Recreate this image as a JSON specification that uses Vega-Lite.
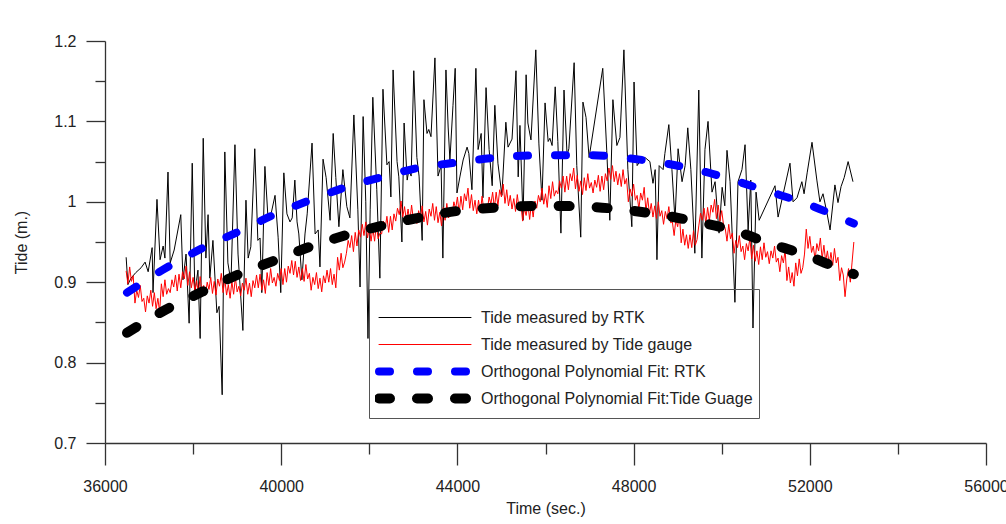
{
  "$schema": "https://vega.github.io/schema/vega-lite/v6.json",
  "width": 881,
  "height": 402,
  "autosize": {"type": "none"},
  "padding": {"left": 105, "top": 41, "right": 20, "bottom": 81},
  "background": "white",
  "config": {
    "view": {"stroke": null},
    "font": "Liberation Sans",
    "axis": {"grid": false, "domainColor": "#333", "tickColor": "#333", "domainWidth": 1.3, "tickWidth": 1.3, "labelFont": "Liberation Sans", "labelFontSize": 16, "labelColor": "#222", "titleFont": "Liberation Sans", "titleFontSize": 16, "titleFontWeight": "normal", "titleColor": "#222"},
    "legend": {"labelFont": "Liberation Sans", "labelFontSize": 16, "labelColor": "#222", "labelLimit": 0, "symbolSize": 8464, "clipHeight": 27, "rowPadding": 0, "labelOffset": 48, "symbolOffset": 42, "padding": 6, "strokeColor": "#555", "titleFontSize": 4, "titlePadding": 5}
  },
  "datasets": {
    "rtk": [
      {"t":36480,"v":0.931},{"t":36520,"v":0.897},{"t":36590,"v":0.905},{"t":36700,"v":0.912},{"t":36820,"v":0.918},{"t":36910,"v":0.925},{"t":36980,"v":0.913},{"t":37070,"v":0.943},{"t":37090,"v":0.887},{"t":37180,"v":1.003},{"t":37250,"v":0.928},{"t":37320,"v":0.945},{"t":37360,"v":0.930},{"t":37430,"v":1.037},{"t":37480,"v":0.924},{"t":37570,"v":0.940},{"t":37720,"v":0.984},{"t":37770,"v":0.903},{"t":37840,"v":0.935},{"t":37910,"v":0.849},{"t":37980,"v":1.048},{"t":38040,"v":0.887},{"t":38110,"v":0.915},{"t":38160,"v":0.830},{"t":38230,"v":1.079},{"t":38290,"v":0.930},{"t":38340,"v":0.984},{"t":38380,"v":0.905},{"t":38450,"v":0.952},{"t":38540,"v":0.862},{"t":38590,"v":0.870},{"t":38660,"v":0.760},{"t":38720,"v":1.062},{"t":38790,"v":0.924},{"t":38860,"v":0.900},{"t":38950,"v":1.071},{"t":39020,"v":0.935},{"t":39130,"v":0.840},{"t":39200,"v":1.002},{"t":39250,"v":0.930},{"t":39310,"v":0.944},{"t":39400,"v":1.066},{"t":39470,"v":0.952},{"t":39520,"v":0.955},{"t":39560,"v":0.887},{"t":39630,"v":1.044},{"t":39700,"v":0.980},{"t":39770,"v":0.985},{"t":39860,"v":1.008},{"t":39930,"v":0.956},{"t":39990,"v":0.887},{"t":40060,"v":1.036},{"t":40130,"v":0.985},{"t":40200,"v":0.975},{"t":40250,"v":0.980},{"t":40310,"v":1.027},{"t":40360,"v":0.975},{"t":40400,"v":0.960},{"t":40470,"v":0.903},{"t":40540,"v":0.960},{"t":40590,"v":0.985},{"t":40700,"v":1.073},{"t":40770,"v":0.960},{"t":40840,"v":0.965},{"t":40880,"v":0.919},{"t":40950,"v":1.053},{"t":41020,"v":1.030},{"t":41110,"v":0.977},{"t":41180,"v":1.085},{"t":41240,"v":1.030},{"t":41310,"v":0.969},{"t":41400,"v":1.040},{"t":41490,"v":0.994},{"t":41560,"v":0.980},{"t":41650,"v":1.108},{"t":41740,"v":0.990},{"t":41790,"v":0.894},{"t":41860,"v":1.106},{"t":41920,"v":1.000},{"t":41970,"v":0.830},{"t":42020,"v":0.990},{"t":42080,"v":1.130},{"t":42170,"v":1.015},{"t":42240,"v":0.905},{"t":42310,"v":1.140},{"t":42400,"v":1.046},{"t":42450,"v":1.050},{"t":42490,"v":1.006},{"t":42540,"v":1.164},{"t":42630,"v":1.050},{"t":42670,"v":1.031},{"t":42740,"v":0.950},{"t":42790,"v":1.098},{"t":42860,"v":1.027},{"t":42900,"v":1.040},{"t":42950,"v":1.032},{"t":43010,"v":1.163},{"t":43080,"v":1.055},{"t":43130,"v":1.032},{"t":43200,"v":0.952},{"t":43240,"v":1.127},{"t":43310,"v":1.085},{"t":43350,"v":1.090},{"t":43400,"v":1.081},{"t":43490,"v":1.179},{"t":43560,"v":1.032},{"t":43630,"v":1.045},{"t":43670,"v":0.930},{"t":43740,"v":1.164},{"t":43790,"v":1.093},{"t":43830,"v":1.052},{"t":43900,"v":1.120},{"t":43950,"v":1.166},{"t":43990,"v":1.011},{"t":44060,"v":1.032},{"t":44130,"v":1.052},{"t":44220,"v":1.068},{"t":44260,"v":1.060},{"t":44330,"v":1.015},{"t":44420,"v":1.166},{"t":44470,"v":1.065},{"t":44540,"v":1.085},{"t":44580,"v":1.005},{"t":44650,"v":1.142},{"t":44720,"v":1.065},{"t":44790,"v":1.020},{"t":44850,"v":1.120},{"t":44920,"v":1.048},{"t":45010,"v":1.008},{"t":45100,"v":1.099},{"t":45150,"v":1.068},{"t":45240,"v":1.078},{"t":45330,"v":1.163},{"t":45380,"v":1.031},{"t":45420,"v":1.095},{"t":45490,"v":0.977},{"t":45560,"v":1.158},{"t":45600,"v":1.098},{"t":45670,"v":1.077},{"t":45780,"v":1.189},{"t":45850,"v":1.072},{"t":45920,"v":1.002},{"t":45990,"v":1.123},{"t":46060,"v":1.075},{"t":46100,"v":1.079},{"t":46150,"v":1.070},{"t":46220,"v":1.143},{"t":46280,"v":1.075},{"t":46350,"v":0.961},{"t":46420,"v":1.139},{"t":46490,"v":1.058},{"t":46530,"v":1.066},{"t":46650,"v":1.173},{"t":46710,"v":1.045},{"t":46800,"v":0.956},{"t":46850,"v":1.124},{"t":46920,"v":1.105},{"t":46990,"v":1.055},{"t":47300,"v":1.166},{"t":47390,"v":1.064},{"t":47460,"v":0.977},{"t":47530,"v":1.127},{"t":47620,"v":1.070},{"t":47690,"v":1.080},{"t":47780,"v":1.189},{"t":47870,"v":1.040},{"t":47960,"v":0.969},{"t":48010,"v":1.149},{"t":48080,"v":1.045},{"t":48140,"v":1.050},{"t":48260,"v":1.055},{"t":48370,"v":1.050},{"t":48440,"v":1.023},{"t":48490,"v":1.040},{"t":48530,"v":0.928},{"t":48580,"v":1.045},{"t":48670,"v":1.040},{"t":48710,"v":1.060},{"t":48800,"v":1.096},{"t":48870,"v":1.040},{"t":48940,"v":0.977},{"t":49010,"v":1.066},{"t":49100,"v":1.025},{"t":49170,"v":1.045},{"t":49230,"v":1.092},{"t":49300,"v":1.040},{"t":49390,"v":0.936},{"t":49480,"v":1.139},{"t":49550,"v":0.930},{"t":49620,"v":1.065},{"t":49690,"v":1.100},{"t":49780,"v":1.012},{"t":49850,"v":1.025},{"t":49940,"v":0.961},{"t":50010,"v":1.018},{"t":50070,"v":0.995},{"t":50120,"v":1.064},{"t":50190,"v":1.025},{"t":50300,"v":0.875},{"t":50370,"v":1.025},{"t":50460,"v":1.040},{"t":50530,"v":1.071},{"t":50600,"v":0.965},{"t":50660,"v":1.027},{"t":50710,"v":0.843},{"t":50780,"v":1.012},{"t":50850,"v":0.977},{"t":51210,"v":1.020},{"t":51280,"v":0.981},{"t":51550,"v":1.048},{"t":51620,"v":1.000},{"t":51710,"v":1.005},{"t":51820,"v":1.025},{"t":51870,"v":1.010},{"t":51940,"v":1.036},{"t":52050,"v":1.074},{"t":52160,"v":1.027},{"t":52230,"v":1.000},{"t":52300,"v":1.010},{"t":52390,"v":0.986},{"t":52460,"v":0.965},{"t":52570,"v":1.021},{"t":52640,"v":0.999},{"t":52710,"v":1.019},{"t":52780,"v":1.030},{"t":52870,"v":1.050},{"t":52980,"v":1.025}
    ],
    "gauge": [
      {"t":36480,"v":0.914},{"t":36520,"v":0.898},{"t":36560,"v":0.919},{"t":36600,"v":0.901},{"t":36640,"v":0.908},
      {"t":36680,"v":0.874},{"t":36720,"v":0.890},{"t":36760,"v":0.881},{"t":36800,"v":0.896},{"t":36840,"v":0.876},
      {"t":36880,"v":0.880},{"t":36920,"v":0.863},{"t":36960,"v":0.883},{"t":37000,"v":0.874},{"t":37040,"v":0.890},
      {"t":37080,"v":0.870},{"t":37120,"v":0.887},{"t":37160,"v":0.867},{"t":37200,"v":0.880},{"t":37240,"v":0.863},
      {"t":37280,"v":0.898},{"t":37320,"v":0.882},{"t":37360,"v":0.903},{"t":37400,"v":0.885},{"t":37440,"v":0.892},
      {"t":37480,"v":0.887},{"t":37520,"v":0.903},{"t":37560,"v":0.894},{"t":37600,"v":0.909},{"t":37640,"v":0.889},
      {"t":37680,"v":0.910},{"t":37720,"v":0.893},{"t":37760,"v":0.913},{"t":37800,"v":0.904},{"t":37840,"v":0.920},
      {"t":37880,"v":0.896},{"t":37920,"v":0.913},{"t":37960,"v":0.893},{"t":38000,"v":0.906},{"t":38040,"v":0.889},
      {"t":38080,"v":0.902},{"t":38120,"v":0.886},{"t":38160,"v":0.907},{"t":38200,"v":0.889},{"t":38240,"v":0.896},
      {"t":38280,"v":0.884},{"t":38320,"v":0.900},{"t":38360,"v":0.891},{"t":38400,"v":0.906},{"t":38440,"v":0.886},
      {"t":38480,"v":0.901},{"t":38520,"v":0.884},{"t":38560,"v":0.904},{"t":38600,"v":0.895},{"t":38640,"v":0.911},
      {"t":38680,"v":0.887},{"t":38720,"v":0.904},{"t":38760,"v":0.884},{"t":38800,"v":0.897},{"t":38840,"v":0.880},
      {"t":38880,"v":0.901},{"t":38920,"v":0.885},{"t":38960,"v":0.906},{"t":39000,"v":0.888},{"t":39040,"v":0.895},
      {"t":39080,"v":0.883},{"t":39120,"v":0.899},{"t":39160,"v":0.890},{"t":39200,"v":0.905},{"t":39240,"v":0.885},
      {"t":39280,"v":0.899},{"t":39320,"v":0.882},{"t":39360,"v":0.902},{"t":39400,"v":0.893},{"t":39440,"v":0.909},
      {"t":39480,"v":0.893},{"t":39520,"v":0.910},{"t":39560,"v":0.890},{"t":39600,"v":0.903},{"t":39640,"v":0.886},
      {"t":39680,"v":0.912},{"t":39720,"v":0.896},{"t":39760,"v":0.917},{"t":39800,"v":0.899},{"t":39840,"v":0.906},
      {"t":39880,"v":0.895},{"t":39920,"v":0.911},{"t":39960,"v":0.902},{"t":40000,"v":0.917},{"t":40040,"v":0.897},
      {"t":40080,"v":0.917},{"t":40120,"v":0.900},{"t":40160,"v":0.920},{"t":40200,"v":0.911},{"t":40240,"v":0.927},
      {"t":40280,"v":0.909},{"t":40320,"v":0.926},{"t":40360,"v":0.906},{"t":40400,"v":0.919},{"t":40440,"v":0.902},
      {"t":40480,"v":0.917},{"t":40520,"v":0.901},{"t":40560,"v":0.922},{"t":40600,"v":0.904},{"t":40640,"v":0.911},
      {"t":40680,"v":0.890},{"t":40720,"v":0.906},{"t":40760,"v":0.897},{"t":40800,"v":0.912},{"t":40840,"v":0.892},
      {"t":40880,"v":0.905},{"t":40920,"v":0.888},{"t":40960,"v":0.908},{"t":41000,"v":0.899},{"t":41040,"v":0.915},
      {"t":41080,"v":0.900},{"t":41120,"v":0.917},{"t":41160,"v":0.897},{"t":41200,"v":0.910},{"t":41240,"v":0.893},
      {"t":41280,"v":0.931},{"t":41320,"v":0.915},{"t":41360,"v":0.936},{"t":41400,"v":0.918},{"t":41440,"v":0.925},
      {"t":41480,"v":0.936},{"t":41520,"v":0.952},{"t":41560,"v":0.943},{"t":41600,"v":0.958},{"t":41640,"v":0.938},
      {"t":41680,"v":0.962},{"t":41720,"v":0.945},{"t":41760,"v":0.965},{"t":41800,"v":0.956},{"t":41840,"v":0.972},
      {"t":41880,"v":0.958},{"t":41920,"v":0.975},{"t":41960,"v":0.955},{"t":42000,"v":0.968},{"t":42040,"v":0.951},
      {"t":42080,"v":0.967},{"t":42120,"v":0.951},{"t":42160,"v":0.972},{"t":42200,"v":0.954},{"t":42240,"v":0.961},
      {"t":42280,"v":0.960},{"t":42320,"v":0.976},{"t":42360,"v":0.967},{"t":42400,"v":0.982},{"t":42440,"v":0.962},
      {"t":42480,"v":0.982},{"t":42520,"v":0.965},{"t":42560,"v":0.985},{"t":42600,"v":0.976},{"t":42640,"v":0.992},
      {"t":42680,"v":0.984},{"t":42720,"v":1.001},{"t":42760,"v":0.981},{"t":42800,"v":0.994},{"t":42840,"v":0.977},
      {"t":42880,"v":0.991},{"t":42920,"v":0.975},{"t":42960,"v":0.996},{"t":43000,"v":0.978},{"t":43040,"v":0.985},
      {"t":43080,"v":0.973},{"t":43120,"v":0.989},{"t":43160,"v":0.980},{"t":43200,"v":0.995},{"t":43240,"v":0.975},
      {"t":43280,"v":0.988},{"t":43320,"v":0.971},{"t":43360,"v":0.991},{"t":43400,"v":0.982},{"t":43440,"v":0.998},
      {"t":43480,"v":0.977},{"t":43520,"v":0.994},{"t":43560,"v":0.974},{"t":43600,"v":0.987},{"t":43640,"v":0.970},
      {"t":43680,"v":0.993},{"t":43720,"v":0.977},{"t":43760,"v":0.998},{"t":43800,"v":0.980},{"t":43840,"v":0.987},
      {"t":43880,"v":0.984},{"t":43920,"v":1.000},{"t":43960,"v":0.991},{"t":44000,"v":1.006},{"t":44040,"v":0.986},
      {"t":44080,"v":1.007},{"t":44120,"v":0.990},{"t":44160,"v":1.010},{"t":44200,"v":1.001},{"t":44240,"v":1.017},
      {"t":44280,"v":0.992},{"t":44320,"v":1.009},{"t":44360,"v":0.989},{"t":44400,"v":1.002},{"t":44440,"v":0.985},
      {"t":44480,"v":1.002},{"t":44520,"v":0.986},{"t":44560,"v":1.007},{"t":44600,"v":0.989},{"t":44640,"v":0.996},
      {"t":44680,"v":0.990},{"t":44720,"v":1.006},{"t":44760,"v":0.997},{"t":44800,"v":1.012},{"t":44840,"v":0.992},
      {"t":44880,"v":1.012},{"t":44920,"v":0.995},{"t":44960,"v":1.015},{"t":45000,"v":1.006},{"t":45040,"v":1.022},
      {"t":45080,"v":0.998},{"t":45120,"v":1.015},{"t":45160,"v":0.995},{"t":45200,"v":1.008},{"t":45240,"v":0.991},
      {"t":45280,"v":1.004},{"t":45320,"v":0.988},{"t":45360,"v":1.009},{"t":45400,"v":0.991},{"t":45440,"v":0.998},
      {"t":45480,"v":0.976},{"t":45520,"v":0.992},{"t":45560,"v":0.983},{"t":45600,"v":0.998},{"t":45640,"v":0.978},
      {"t":45680,"v":0.998},{"t":45720,"v":0.981},{"t":45760,"v":1.001},{"t":45800,"v":0.992},{"t":45840,"v":1.008},
      {"t":45880,"v":1.000},{"t":45920,"v":1.017},{"t":45960,"v":0.997},{"t":46000,"v":1.010},{"t":46040,"v":0.993},
      {"t":46080,"v":1.020},{"t":46120,"v":1.004},{"t":46160,"v":1.025},{"t":46200,"v":1.007},{"t":46240,"v":1.014},
      {"t":46280,"v":1.010},{"t":46320,"v":1.026},{"t":46360,"v":1.017},{"t":46400,"v":1.032},{"t":46440,"v":1.012},
      {"t":46480,"v":1.032},{"t":46520,"v":1.015},{"t":46560,"v":1.035},{"t":46600,"v":1.026},{"t":46640,"v":1.042},
      {"t":46680,"v":1.016},{"t":46720,"v":1.033},{"t":46760,"v":1.013},{"t":46800,"v":1.026},{"t":46840,"v":1.009},
      {"t":46880,"v":1.030},{"t":46920,"v":1.014},{"t":46960,"v":1.035},{"t":47000,"v":1.017},{"t":47040,"v":1.024},
      {"t":47080,"v":1.011},{"t":47120,"v":1.027},{"t":47160,"v":1.018},{"t":47200,"v":1.033},{"t":47240,"v":1.013},
      {"t":47280,"v":1.032},{"t":47320,"v":1.015},{"t":47360,"v":1.035},{"t":47400,"v":1.026},{"t":47440,"v":1.042},
      {"t":47480,"v":1.028},{"t":47520,"v":1.045},{"t":47560,"v":1.025},{"t":47600,"v":1.038},{"t":47640,"v":1.021},
      {"t":47680,"v":1.035},{"t":47720,"v":1.019},{"t":47760,"v":1.040},{"t":47800,"v":1.022},{"t":47840,"v":1.029},
      {"t":47880,"v":1.000},{"t":47920,"v":1.016},{"t":47960,"v":1.007},{"t":48000,"v":1.022},{"t":48040,"v":1.002},
      {"t":48080,"v":1.008},{"t":48120,"v":0.991},{"t":48160,"v":1.011},{"t":48200,"v":1.002},{"t":48240,"v":1.018},
      {"t":48280,"v":0.988},{"t":48320,"v":1.005},{"t":48360,"v":0.985},{"t":48400,"v":0.998},{"t":48440,"v":0.981},
      {"t":48480,"v":0.995},{"t":48520,"v":0.979},{"t":48560,"v":1.000},{"t":48600,"v":0.982},{"t":48640,"v":0.989},
      {"t":48680,"v":0.972},{"t":48720,"v":0.988},{"t":48760,"v":0.979},{"t":48800,"v":0.994},{"t":48840,"v":0.974},
      {"t":48880,"v":0.975},{"t":48920,"v":0.958},{"t":48960,"v":0.978},{"t":49000,"v":0.969},{"t":49040,"v":0.985},
      {"t":49080,"v":0.949},{"t":49120,"v":0.966},{"t":49160,"v":0.946},{"t":49200,"v":0.959},{"t":49240,"v":0.942},
      {"t":49280,"v":0.959},{"t":49320,"v":0.943},{"t":49360,"v":0.964},{"t":49400,"v":0.946},{"t":49440,"v":0.953},
      {"t":49480,"v":0.970},{"t":49520,"v":0.986},{"t":49560,"v":0.977},{"t":49600,"v":0.992},{"t":49640,"v":0.972},
      {"t":49680,"v":0.993},{"t":49720,"v":0.976},{"t":49760,"v":0.996},{"t":49800,"v":0.987},{"t":49840,"v":1.003},
      {"t":49880,"v":0.979},{"t":49920,"v":0.996},{"t":49960,"v":0.976},{"t":50000,"v":0.989},{"t":50040,"v":0.972},
      {"t":50080,"v":0.967},{"t":50120,"v":0.951},{"t":50160,"v":0.972},{"t":50200,"v":0.954},{"t":50240,"v":0.961},
      {"t":50280,"v":0.936},{"t":50320,"v":0.952},{"t":50360,"v":0.943},{"t":50400,"v":0.958},{"t":50440,"v":0.938},
      {"t":50480,"v":0.945},{"t":50520,"v":0.928},{"t":50560,"v":0.948},{"t":50600,"v":0.939},{"t":50640,"v":0.955},
      {"t":50680,"v":0.929},{"t":50720,"v":0.946},{"t":50760,"v":0.926},{"t":50800,"v":0.939},{"t":50840,"v":0.922},
      {"t":50880,"v":0.944},{"t":50920,"v":0.928},{"t":50960,"v":0.949},{"t":51000,"v":0.931},{"t":51040,"v":0.938},
      {"t":51080,"v":0.923},{"t":51120,"v":0.939},{"t":51160,"v":0.930},{"t":51200,"v":0.945},{"t":51240,"v":0.925},
      {"t":51280,"v":0.930},{"t":51320,"v":0.913},{"t":51360,"v":0.933},{"t":51400,"v":0.924},{"t":51440,"v":0.940},
      {"t":51480,"v":0.902},{"t":51520,"v":0.919},{"t":51560,"v":0.899},{"t":51600,"v":0.912},{"t":51640,"v":0.895},
      {"t":51680,"v":0.924},{"t":51720,"v":0.908},{"t":51760,"v":0.929},{"t":51800,"v":0.911},{"t":51840,"v":0.918},
      {"t":51880,"v":0.935},{"t":51920,"v":0.966},{"t":51960,"v":0.942},{"t":52000,"v":0.957},{"t":52040,"v":0.937},
      {"t":52080,"v":0.945},{"t":52120,"v":0.928},{"t":52160,"v":0.948},{"t":52200,"v":0.939},{"t":52240,"v":0.955},
      {"t":52280,"v":0.929},{"t":52320,"v":0.946},{"t":52360,"v":0.926},{"t":52400,"v":0.939},{"t":52440,"v":0.922},
      {"t":52480,"v":0.937},{"t":52520,"v":0.921},{"t":52560,"v":0.942},{"t":52600,"v":0.924},{"t":52640,"v":0.931},
      {"t":52680,"v":0.902},{"t":52720,"v":0.918},{"t":52760,"v":0.909},{"t":52800,"v":0.882},{"t":52840,"v":0.904},
      {"t":52880,"v":0.917},{"t":52920,"v":0.900},{"t":52960,"v":0.925},{"t":53000,"v":0.950}
    ],
    "fitr": [
      {"t":36500,"v":0.887},{"t":37300,"v":0.915},{"t":38200,"v":0.942},{"t":39000,"v":0.962},{"t":39800,"v":0.983},{"t":40600,"v":1.001},{"t":41400,"v":1.017},{"t":42300,"v":1.031},{"t":43100,"v":1.042},{"t":44000,"v":1.049},{"t":44900,"v":1.055},{"t":46000,"v":1.058},{"t":47000,"v":1.058},{"t":47900,"v":1.054},{"t":48800,"v":1.047},{"t":49500,"v":1.039},{"t":50200,"v":1.028},{"t":51000,"v":1.014},{"t":51900,"v":0.998},{"t":52700,"v":0.980},{"t":53000,"v":0.973}
    ],
    "fitg": [
      {"t":36500,"v":0.837},{"t":37350,"v":0.865},{"t":38200,"v":0.888},{"t":39000,"v":0.909},{"t":39900,"v":0.928},{"t":40700,"v":0.945},{"t":41500,"v":0.959},{"t":42350,"v":0.971},{"t":43200,"v":0.981},{"t":44050,"v":0.989},{"t":44900,"v":0.993},{"t":46000,"v":0.995},{"t":46900,"v":0.994},{"t":47800,"v":0.990},{"t":48600,"v":0.984},{"t":49450,"v":0.975},{"t":50300,"v":0.964},{"t":51050,"v":0.949},{"t":51900,"v":0.934},{"t":52750,"v":0.915},{"t":53000,"v":0.910}
    ]
  },
  "encoding": {
    "x": {"field": "t", "type": "quantitative", "title": "Time (sec.)",
      "scale": {"domain": [36000, 56000], "nice": false},
      "axis": {"values": [36000,38000,40000,42000,44000,46000,48000,50000,52000,54000,56000],
        "labelExpr": "datum.value % 4000 === 0 ? format(datum.value, 'd') : ''",
        "tickSize": {"condition": {"test": "datum.value % 4000 === 0", "value": 22}, "value": 11},
        "labelPadding": 13, "titlePadding": 6, "labelFlush": false}},
    "y": {"field": "v", "type": "quantitative", "title": "Tide (m.)",
      "scale": {"domain": [0.7, 1.2], "nice": false, "zero": false},
      "axis": {"values": [0.7,0.75,0.8,0.85,0.9,0.95,1,1.05,1.1,1.15,1.2],
        "labelExpr": "round(datum.value*100) % 10 === 0 ? format(datum.value, '~g') : ''",
        "tickSize": {"condition": {"test": "round(datum.value*100) % 10 === 0", "value": 19}, "value": 10},
        "labelPadding": 10, "titlePadding": 24, "labelFlush": false}}
  },
  "layer": [
    {"data": {"name": "rtk"}, "mark": {"type": "line", "strokeWidth": 1, "strokeJoin": "miter"},
      "encoding": {
        "color": {"datum": "Tide measured by RTK", "type": "nominal",
          "scale": {"domain": ["Tide measured by RTK", "Tide measured by Tide gauge", "Orthogonal Polynomial Fit: RTK", "Orthogonal Polynomial Fit:Tide Guage"], "range": ["#000000", "#ff0000", "#0000ff", "#000000"]},
          "legend": {"title": " ", "orient": "none", "legendX": 264, "legendY": 248,
            "encode": {"symbols": {"update": {
              "size": {"value": 8464},
              "stroke": {"signal": "datum.value === 'Tide measured by Tide gauge' ? '#ff0000' : (datum.value === 'Orthogonal Polynomial Fit: RTK' ? '#0000ff' : '#000000')"},
              "strokeWidth": {"signal": "datum.value === 'Orthogonal Polynomial Fit: RTK' ? 8 : (datum.value === 'Orthogonal Polynomial Fit:Tide Guage' ? 10 : 1)"},
              "strokeDash": {"signal": "indexof(datum.value, 'Orthogonal') === 0 ? [11, 27] : [1, 0]"},
              "strokeCap": {"value": "round"},
              "opacity": {"value": 1}
            }}}}}
      }},
    {"data": {"name": "gauge"}, "mark": {"type": "line", "strokeWidth": 1},
      "encoding": {
        "color": {"datum": "Tide measured by Tide gauge", "type": "nominal"}
      }},
    {"data": {"name": "fitr"}, "mark": {"type": "line", "strokeWidth": 8, "strokeDash": [11, 27], "strokeCap": "round", "interpolate": "monotone"},
      "encoding": {
        "color": {"datum": "Orthogonal Polynomial Fit: RTK", "type": "nominal"}
      }},
    {"data": {"name": "fitg"}, "mark": {"type": "line", "strokeWidth": 10, "strokeDash": [11, 27], "strokeCap": "round", "interpolate": "monotone"},
      "encoding": {
        "color": {"datum": "Orthogonal Polynomial Fit:Tide Guage", "type": "nominal"}
      }}
  ]
}
